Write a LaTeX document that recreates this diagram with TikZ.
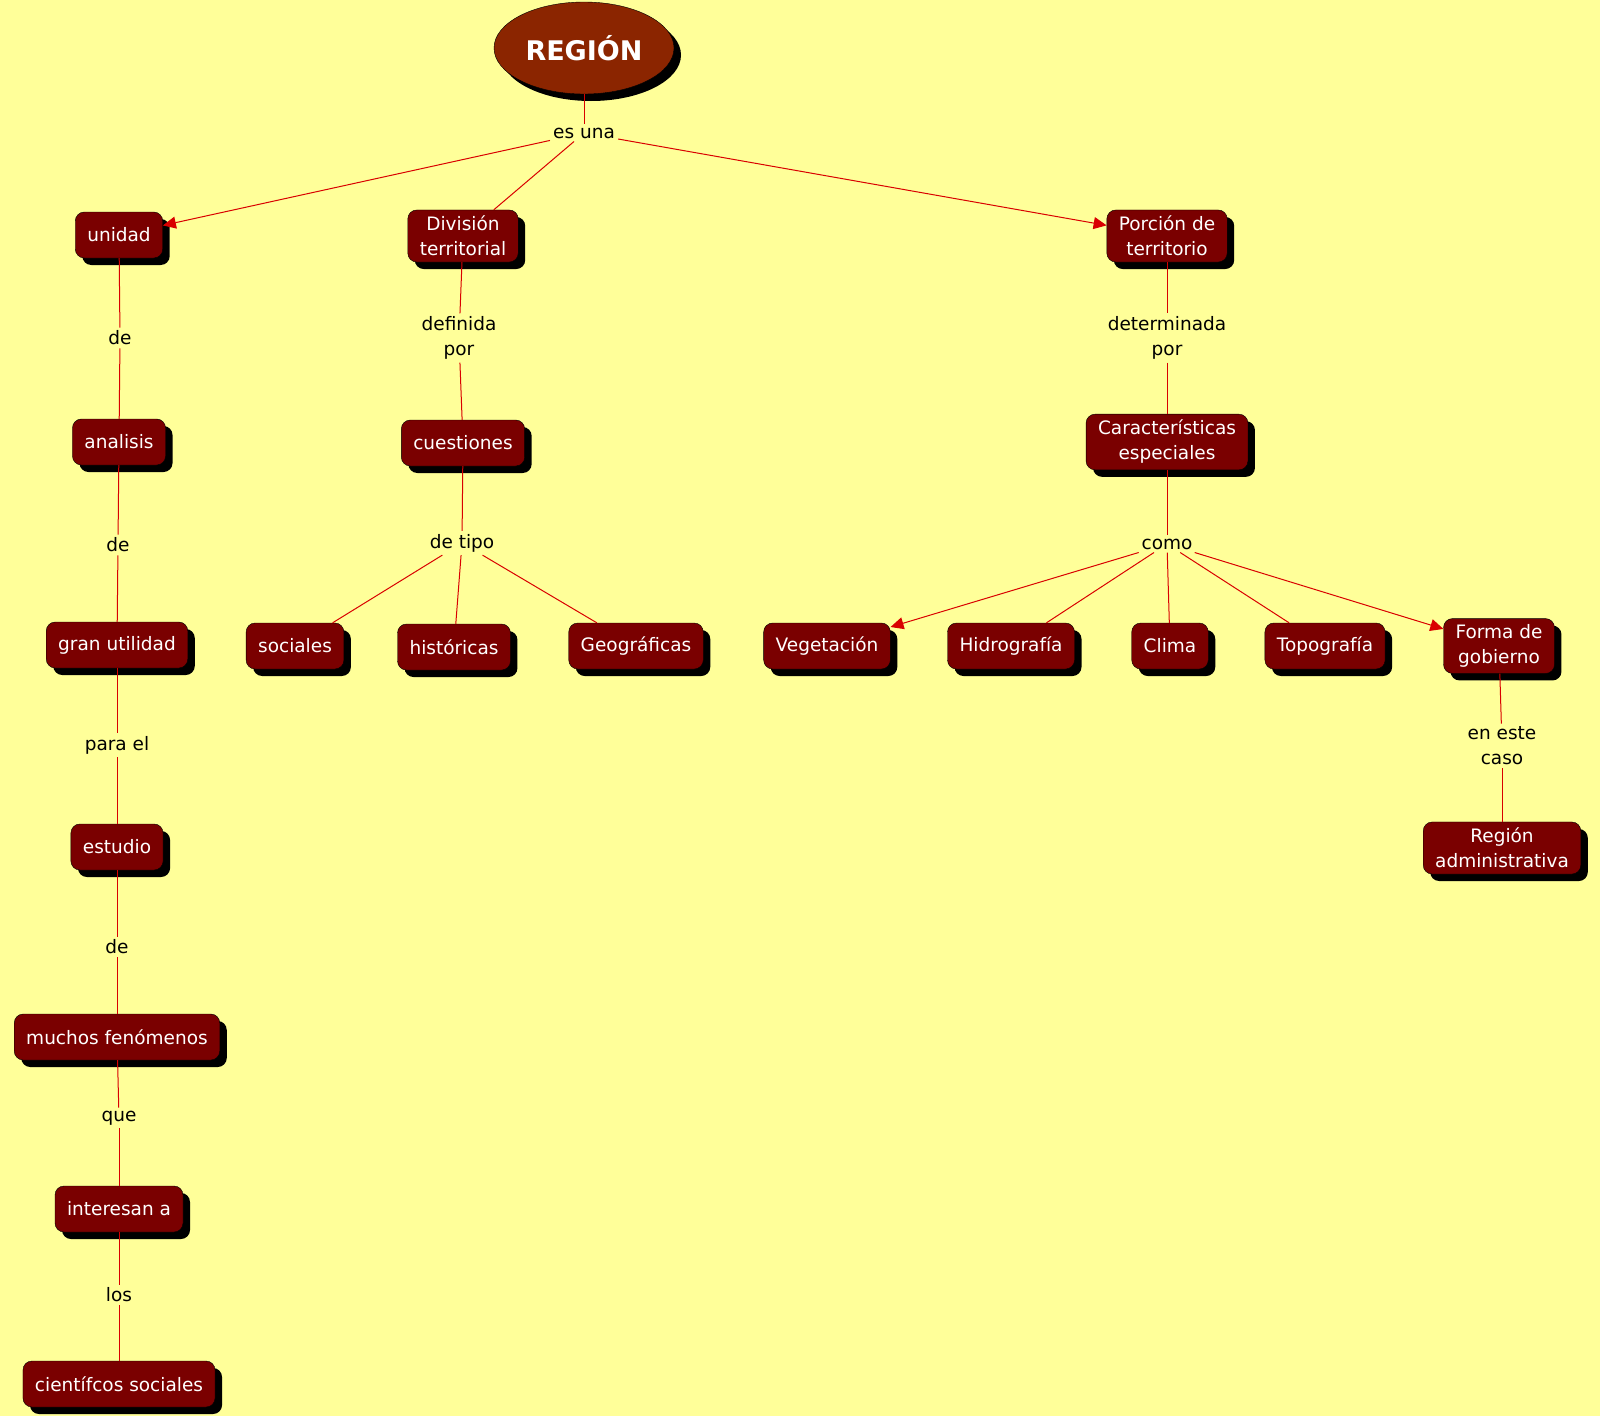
\documentclass[tikz,border=0pt]{standalone}
\usepackage{fontspec}
\setmainfont{DejaVu Sans}
\usetikzlibrary{positioning, arrows.meta, shapes, shadows}
\definecolor{bgyellow}{HTML}{FFFF99}
\definecolor{conceptred}{HTML}{7A0000}
\definecolor{rootred}{HTML}{8B2500}
\begin{document}
\begin{tikzpicture}[x=1pt, y=-1pt,
    concept/.style={rectangle, rounded corners=9pt, fill=conceptred, draw=black, text=white,
        align=center, inner xsep=12pt, inner ysep=6pt, minimum height=46pt,
        font=\fontsize{18.5}{25}\selectfont,
        drop shadow={shadow xshift=7pt, shadow yshift=-7pt, fill=black, opacity=1}},
    link/.style={align=center, font=\fontsize{18.5}{25}\selectfont, inner sep=3pt},
    line/.style={draw=red!85!black, line width=1pt},
    arrow/.style={line, -{Triangle[length=13pt, width=12pt]}}
    ]
\fill[bgyellow] (0,0) rectangle (1600,1416);

\node[ellipse, fill=rootred, draw=black, text=white, minimum width=180pt, minimum height=92pt,
    font=\fontsize{27}{32}\selectfont\bfseries,
    drop shadow={shadow xshift=7pt, shadow yshift=-7pt, fill=black, opacity=1}] (region) at (584,48) {REGIÓN};
\node[link] (esuna) at (584,133) {es una};

% left column
\node[concept] (unidad) at (119,235) {unidad};
\node[link] (de1) at (120,338) {de};
\node[concept] (analisis) at (119,442) {analisis};
\node[link] (de2) at (118,545) {de};
\node[concept] (utilidad) at (117,645) {gran utilidad};
\node[link] (parael) at (117,745) {para el};
\node[concept] (estudio) at (117,847) {estudio};
\node[link] (de3) at (117,947) {de};
\node[concept] (fenomenos) at (117,1037) {muchos fenómenos};
\node[link] (que) at (119,1118) {que};
\node[concept] (interesan) at (119,1209) {interesan a};
\node[link] (los) at (119,1295) {los};
\node[concept] (cientificos) at (119,1384) {científcos sociales};

% middle
\node[concept] (division) at (463,236) {División\\territorial};
\node[link] (definida) at (459,338) {definida\\por};
\node[concept] (cuestiones) at (463,443) {cuestiones};
\node[link] (detipo) at (462,543) {de tipo};
\node[concept] (sociales) at (295,646) {sociales};
\node[concept] (historicas) at (454,647) {históricas};
\node[concept] (geograficas) at (636,646) {Geográficas};

% right
\node[concept] (porcion) at (1167,236) {Porción de\\territorio};
\node[link] (determinada) at (1167,338) {determinada\\por};
\node[concept] (caracteristicas) at (1167,442) {Características\\especiales};
\node[link] (como) at (1167,544) {como};
\node[concept] (vegetacion) at (827,646) {Vegetación};
\node[concept] (hidrografia) at (1011,646) {Hidrografía};
\node[concept] (clima) at (1170,646) {Clima};
\node[concept] (topografia) at (1325,646) {Topografía};
\node[concept] (forma) at (1499,646) {Forma de\\gobierno};
\node[link] (eneste) at (1502,746) {en este\\caso};
\node[concept] (administrativa) at (1502,848) {Región\\administrativa};

\draw[line] (region) -- (esuna);
\draw[arrow] (esuna) -- (unidad);
\draw[line] (esuna) -- (division);
\draw[arrow] (esuna) -- (porcion);

\draw[line] (unidad) -- (de1);
\draw[line] (de1) -- (analisis);
\draw[line] (analisis) -- (de2);
\draw[line] (de2) -- (utilidad);
\draw[line] (utilidad) -- (parael);
\draw[line] (parael) -- (estudio);
\draw[line] (estudio) -- (de3);
\draw[line] (de3) -- (fenomenos);
\draw[line] (fenomenos) -- (que);
\draw[line] (que) -- (interesan);
\draw[line] (interesan) -- (los);
\draw[line] (los) -- (cientificos);

\draw[line] (division) -- (definida);
\draw[line] (definida) -- (cuestiones);
\draw[line] (cuestiones) -- (detipo);
\draw[line] (detipo) -- (sociales);
\draw[line] (detipo) -- (historicas);
\draw[line] (detipo) -- (geograficas);

\draw[line] (porcion) -- (determinada);
\draw[line] (determinada) -- (caracteristicas);
\draw[line] (caracteristicas) -- (como);
\draw[arrow] (como) -- (vegetacion);
\draw[line] (como) -- (hidrografia);
\draw[line] (como) -- (clima);
\draw[line] (como) -- (topografia);
\draw[arrow] (como) -- (forma);
\draw[line] (forma) -- (eneste);
\draw[line] (eneste) -- (administrativa);
\end{tikzpicture}
\end{document}
